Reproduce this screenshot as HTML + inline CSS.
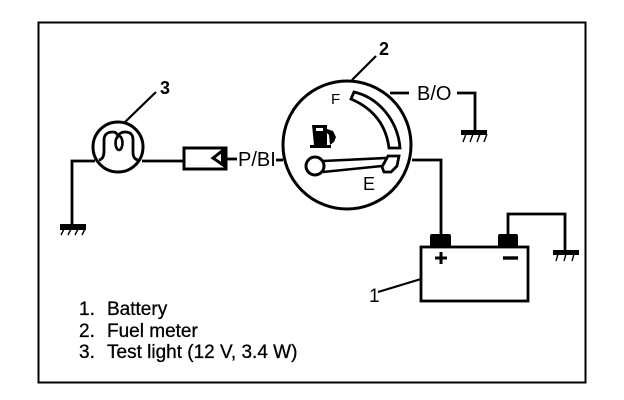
<!DOCTYPE html>
<html><head><meta charset="utf-8"><style>html,body{margin:0;padding:0;background:#fff}svg{display:block}</style></head><body>
<svg width="624" height="400" viewBox="0 0 624 400" xmlns="http://www.w3.org/2000/svg" font-family="'Liberation Sans',sans-serif" fill="#000">
<rect x="38.5" y="22.5" width="547" height="360" fill="none" stroke="#000" stroke-width="2"/>
<g fill="none" stroke="#000" stroke-width="2.8">
<circle cx="347" cy="145" r="64" stroke-width="3"/>
<path d="M352 80L376 56" stroke-width="2.2"/>
<path d="M390 93H409M457 93H475V130"/>
<path d="M412 160H441V234"/>
<path d="M276 160H283"/>
<circle cx="118" cy="147" r="25" stroke-width="3"/>
<path d="M125 122L156 92" stroke-width="2.2"/>
<path d="M72 224V161H95M142 161H183"/>
<path d="M99 160C103 159 104 156 104 150V140C104 134 108 132 113 132C116 132 117 134 118 136C119 134 121 132 125 132C130 132 133 134 133 140V152C133 157 135 160 139 160" stroke-width="2.8"/>
<ellipse cx="119" cy="143" rx="3.5" ry="7" stroke-width="2.6"/>
<rect x="184" y="148" width="42" height="21" stroke-width="3"/>
<path d="M226 148L213 158L226 167" stroke-width="3"/>
<path d="M226 159H237"/>
<path d="M354 92C380 98 398 122 400 148H389C386 124 372 108 351 99Z" stroke-width="2.8"/>
<circle cx="315" cy="166" r="9" stroke-width="3"/>
<path d="M323 161L386 158M323 172L382 166" stroke-width="2.6"/>
<path d="M388 156H399L397 166L391 172H384L382 167Z" stroke-width="2.8"/>
<rect x="421" y="247" width="107" height="54"/>
<path d="M378 292L421 279" stroke-width="2.2"/>
<path d="M508 234V214H565V250"/>
</g>
<path d="M226 148V167L221 164V151Z"/>
<rect x="60" y="224" width="26" height="6"/>
<rect x="461" y="130" width="26" height="5"/>
<rect x="553" y="250" width="26" height="5"/>
<rect x="430" y="234" width="21" height="13" rx="2"/>
<rect x="498" y="234" width="20" height="13" rx="2"/>
<g stroke="#000" stroke-width="1.4">
<path d="M64 229L61 235M71 229L68 235M78 229L75 235M85 229L82 235"/>
<path d="M466 134L463 142M473 134L470 142M480 134L477 142M487 134L484 142"/>
<path d="M558 254L556 261M566 254L564 261M574 254L572 261"/>
</g>
<path d="M441 252V264M435 258H447" stroke="#000" stroke-width="3"/>
<path d="M503 258H518" stroke="#000" stroke-width="3.4"/>
<path d="M312 125H327V129L333 131L336 137L334 142L330 145L329 135L327 133V145H331V148H310V145H314Z"/>
<rect x="316" y="128" width="7" height="3" fill="#fff"/>
<text x="379" y="55" font-size="18" font-weight="700">2</text>
<text x="160" y="94" font-size="18" font-weight="700">3</text>
<text x="331" y="104" font-size="15">F</text>
<text x="363" y="190" font-size="18">E</text>
<text x="417" y="100" font-size="20">B/O</text>
<text x="238" y="166" font-size="20">P/BI</text>
<text x="369" y="302" font-size="19">1</text>
<g font-size="19" stroke="#000" stroke-width="0.3">
<text x="79" y="315">1.</text><text x="107" y="315">Battery</text>
<text x="79" y="337">2.</text><text x="107" y="337">Fuel meter</text>
<text x="79" y="358">3.</text><text x="107" y="358">Test light (12 V, 3.4 W)</text>
</g>
</svg>
</body></html>
